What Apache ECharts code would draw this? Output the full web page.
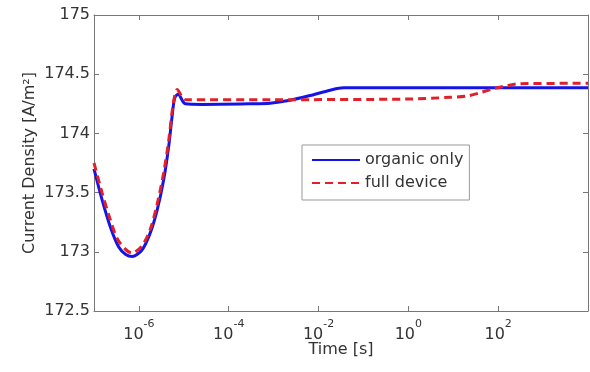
<!DOCTYPE html>
<html>
<head>
<meta charset="utf-8">
<script src="https://cdn.jsdelivr.net/npm/echarts@6/dist/echarts.min.js"></script>
<style>
  html, body { margin: 0; padding: 0; background: #fff; }
  #chart { width: 590px; height: 372px; }
</style>
</head>
<body>
<div id="chart"></div>
<script>
// time [s] and current density [A/m^2]
const organicTime = [1e-7, 1.51e-7, 2.31e-7, 3.55e-7, 5.0e-7, 7.03e-7, 1.17e-6, 1.79e-6, 2.54e-6,
  3.57e-6, 4.61e-6, 5.47e-6, 6.28e-6, 7.45e-6, 1.08e-5, 2.55e-5, 2.99e-4, 8.36e-4, 2.33e-3,
  6.5e-3, 1.81e-2, 3.59e-2, 1, 1e4];
const organicCurrent = [173.70, 173.44, 173.21, 173.04, 172.98, 172.96, 173.015, 173.16, 173.35,
  173.61, 173.89, 174.14, 174.30, 174.33, 174.25, 174.245, 174.25, 174.255, 174.28,
  174.32, 174.365, 174.385, 174.385, 174.385];

const deviceTime = [1e-7, 1.51e-7, 2.31e-7, 3.55e-7, 7.03e-7, 1.17e-6, 1.79e-6, 2.54e-6, 3.57e-6,
  4.61e-6, 5.47e-6, 6.28e-6, 7.08e-6, 9.1e-6, 1.1e-5, 1e-3, 1, 8.55, 20.1, 39.9, 78.9, 157, 310, 1e4];
const deviceCurrent = [173.75, 173.50, 173.27, 173.09, 172.99, 173.05, 173.19, 173.40, 173.67,
  173.94, 174.18, 174.32, 174.37, 174.31, 174.285, 174.285, 174.29, 174.305, 174.316, 174.344,
  174.378, 174.403, 174.42, 174.423];

const xTicks = [1e-6, 1e-4, 1e-2, 1, 1e2];
const seriesNames = ['organic only', 'full device'];

const textColor = '#333';
const axisColor = '#777';
const font = 'DejaVu Sans';

const chart = echarts.init(document.getElementById('chart'));

const pair = (xs, ys) => xs.map((x, i) => [x, ys[i]]);

const xLabelFmt = v => '{a|10}{b|' + Math.round(Math.log10(v)) + '}';

const xAxisBase = {
  type: 'log',
  logBase: 10,
  min: 1e-7,
  max: 1e4,
  axisLine: { lineStyle: { color: axisColor, width: 1 } },
  axisTick: { inside: true, length: 5, customValues: xTicks, lineStyle: { color: axisColor } },
  splitLine: { show: false },
  minorTick: { show: false }
};

const yAxisBase = {
  type: 'value',
  min: 172.5,
  max: 175,
  interval: 0.5,
  axisLine: { show: true, lineStyle: { color: axisColor, width: 1 } },
  axisTick: { show: true, inside: true, length: 5, lineStyle: { color: axisColor } },
  splitLine: { show: false }
};

chart.setOption({
  animation: false,
  textStyle: { fontFamily: font },
  grid: { left: 94, right: 2, top: 15, bottom: 61 },
  legend: {
    orient: 'vertical',
    left: 302,
    top: 145,
    padding: [7, 6, 9, 9],
    itemGap: 7,
    itemWidth: 48,
    itemHeight: 14,
    borderColor: '#999',
    borderWidth: 1,
    itemStyle: { opacity: 0 },
    textStyle: { fontSize: 16, color: textColor, fontFamily: font },
    data: seriesNames
  },
  xAxis: [
    Object.assign({}, xAxisBase, {
      position: 'bottom',
      name: 'Time [s]',
      nameLocation: 'middle',
      nameGap: 31,
      nameMoveOverlap: false,
      nameTextStyle: { fontSize: 16, color: textColor, fontFamily: font },
      axisLabel: {
        customValues: xTicks,
        margin: 8,
        formatter: xLabelFmt,
        rich: {
          a: { fontSize: 16, color: textColor, fontFamily: font, lineHeight: 24, verticalAlign: 'bottom' },
          b: { fontSize: 11, color: textColor, fontFamily: font, lineHeight: 12, verticalAlign: 'top' }
        }
      }
    }),
    Object.assign({}, xAxisBase, { position: 'top', axisLabel: { show: false } })
  ],
  yAxis: [
    Object.assign({}, yAxisBase, {
      position: 'left',
      name: 'Current Density [A/m²]',
      nameLocation: 'middle',
      nameGap: 56,
      nameMoveOverlap: false,
      nameTextStyle: { fontSize: 16, color: textColor, fontFamily: font },
      axisLabel: { fontSize: 16, color: textColor, fontFamily: font, margin: 4 }
    }),
    Object.assign({}, yAxisBase, { position: 'right', axisLabel: { show: false } })
  ],
  series: [
    {
      name: seriesNames[0],
      type: 'line',
      data: pair(organicTime, organicCurrent),
      showSymbol: false,
      symbol: 'none',
      smooth: 0.3,
      lineStyle: { color: '#1414e8', width: 3 },
      itemStyle: { color: '#1414e8' }
    },
    {
      name: seriesNames[1],
      type: 'line',
      data: pair(deviceTime, deviceCurrent),
      showSymbol: false,
      symbol: 'none',
      smooth: 0.3,
      lineStyle: { color: '#e0202a', width: 3, type: [8, 5] },
      itemStyle: { color: '#e0202a' }
    }
  ]
});
</script>
</body>
</html>
